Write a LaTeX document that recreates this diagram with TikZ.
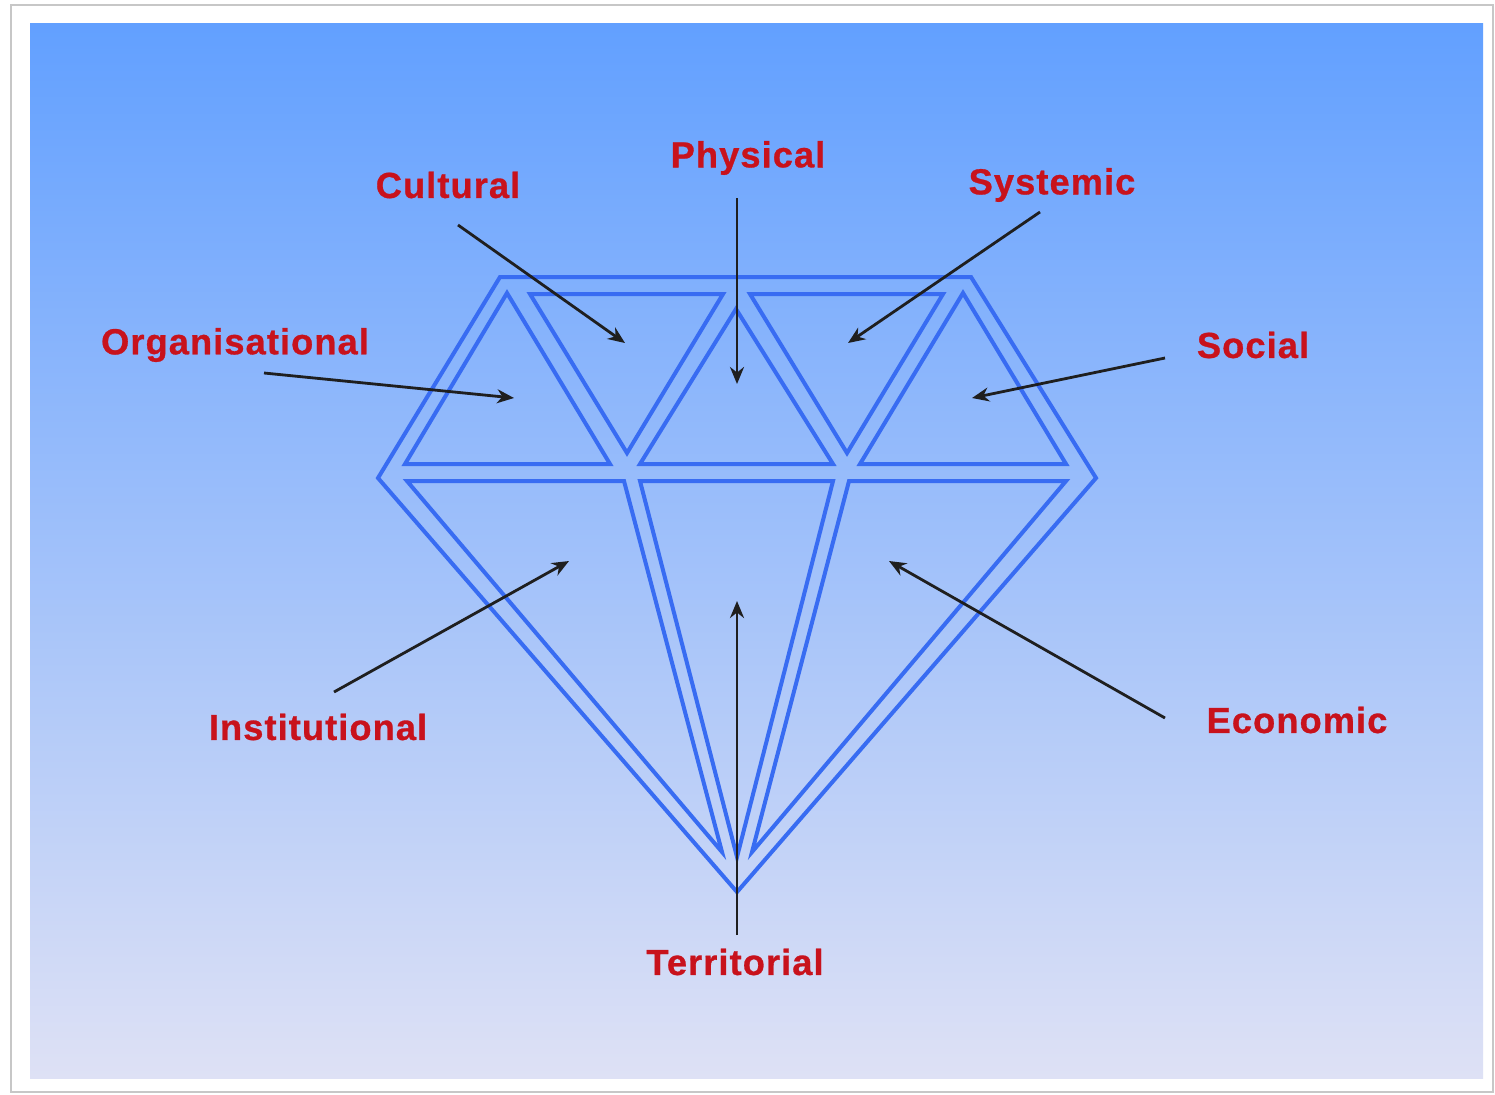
\documentclass[tikz,border=0pt]{standalone}
\usepackage{fontspec}
\newfontfamily\lblfont{Liberation Sans}[LetterSpace=3,FakeBold=0.8]
\usetikzlibrary{arrows.meta}
\definecolor{bgtop}{RGB}{98,160,255}
\definecolor{bgmid}{RGB}{138,192,250}
\definecolor{bgbot}{RGB}{222,225,245}
\definecolor{gemblue}{RGB}{56,108,242}
\definecolor{lblred}{RGB}{200,18,28}
\tikzset{
  gem/.style={draw=gemblue, line width=0.04cm, line join=miter},
  lbl/.style={text=lblred, font=\lblfont\bfseries\fontsize{10.3}{12}\selectfont, inner sep=0pt},
  pointer/.style={draw=black!88, line width=0.028cm, -{Stealth[length=0.17cm,width=0.14cm]}}
}
\begin{document}
\begin{tikzpicture}[x=0.01cm,y=-0.01cm]
\useasboundingbox (0,0) rectangle (1495,1094);
\fill[white] (0,0) rectangle (1495,1094);
\draw[black!22, line width=0.02cm] (11,5) rectangle (1493,1092);
\shade[top color=bgtop, middle color=bgmid, bottom color=bgbot] (30,24) rectangle (1483,1078);

% diamond outline
\draw[gem] (500,277) -- (971,277) -- (1096,478) -- (737,892) -- (378,478) -- cycle;
% upper row
\draw[gem] (507,293) -- (610,464) -- (405,464) -- cycle;
\draw[gem] (530,294) -- (723,294) -- (627,453) -- cycle;
\draw[gem] (736,309) -- (833,464) -- (640,464) -- cycle;
\draw[gem] (750,294) -- (943,294) -- (847,453) -- cycle;
\draw[gem] (963,293) -- (1066,464) -- (860,464) -- cycle;
% lower row
\draw[gem] (407,481) -- (624,481) -- (722,852) -- cycle;
\draw[gem] (640,481) -- (833,481) -- (737,857) -- cycle;
\draw[gem] (849,481) -- (1066,481) -- (752,852) -- cycle;

% labels
\node[lbl] (physical) at (748,158) {Physical};
\node[lbl] (cultural) at (448,185) {Cultural};
\node[lbl] (systemic) at (1052,185) {Systemic};
\node[lbl] (organisational) at (235,345) {Organisational};
\node[lbl] (social) at (1253,345) {Social};
\node[lbl] (institutional) at (318,727) {Institutional};
\node[lbl] (economic) at (1297,720) {Economic};
\node[lbl] (territorial) at (735,962) {Territorial};

% arrow ends
\coordinate (culS) at (458,225); \coordinate (culE) at (625,343);
\coordinate (phyS) at (737,198); \coordinate (phyE) at (737,384);
\coordinate (sysS) at (1040,212); \coordinate (sysE) at (848,343);
\coordinate (orgS) at (264,373); \coordinate (orgE) at (514,398);
\coordinate (socS) at (1165,358); \coordinate (socE) at (972,398);
\coordinate (insS) at (334,692); \coordinate (insE) at (569,561);
\coordinate (ecoS) at (1165,718); \coordinate (ecoE) at (889,561);
\coordinate (terS) at (737,935); \coordinate (terE) at (737,601);

\draw[pointer] (culS) -- (culE);
\draw[pointer] (phyS) -- (phyE);
\draw[pointer] (sysS) -- (sysE);
\draw[pointer] (orgS) -- (orgE);
\draw[pointer] (socS) -- (socE);
\draw[pointer] (insS) -- (insE);
\draw[pointer] (ecoS) -- (ecoE);
\draw[pointer] (terS) -- (terE);
\end{tikzpicture}
\end{document}
